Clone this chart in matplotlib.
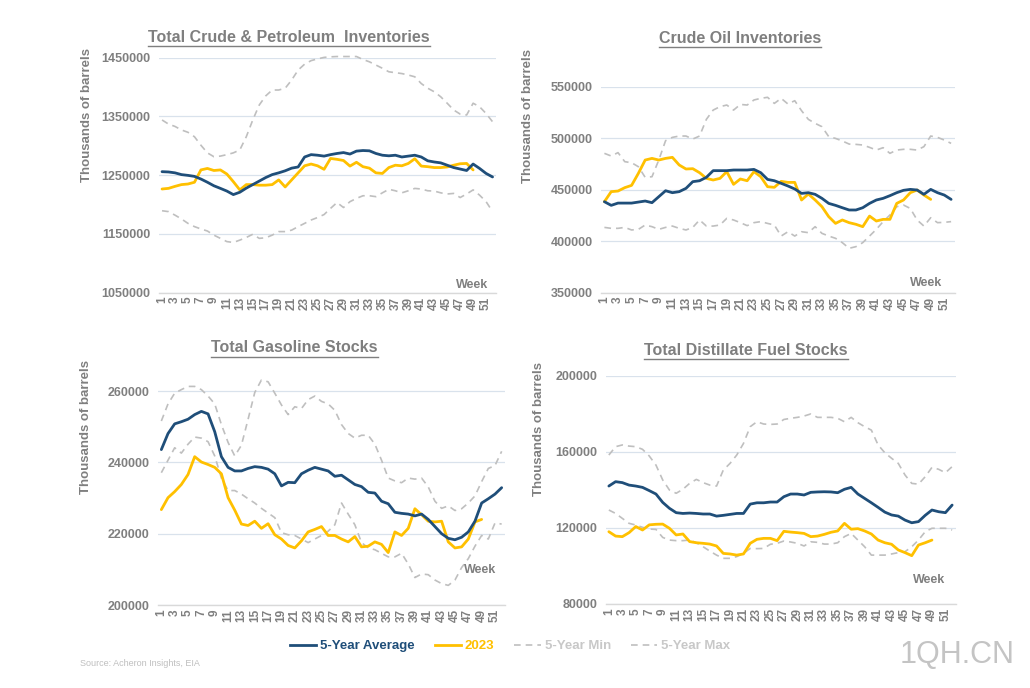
import matplotlib
matplotlib.use("Agg")
import matplotlib.pyplot as plt
from matplotlib.lines import Line2D
from matplotlib import font_manager as fm

weeks = list(range(1, 53))
tick_weeks = list(range(1, 53, 2))

# ---- Total Crude & Petroleum Inventories ----
tcp_avg = [1256000, 1255500, 1254000, 1251000, 1249700, 1248000, 1243500, 1238000, 1232000, 1227600,
           1223000, 1217000, 1221000, 1228000, 1234000, 1240000, 1246000, 1251000, 1254000, 1257500,
           1262000, 1264000, 1281000, 1285000, 1284000, 1282500, 1285000, 1287000, 1288500, 1286000,
           1291000, 1292000, 1291500, 1287000, 1284000, 1283000, 1284000, 1281000, 1282500, 1284000,
           1281000, 1274500, 1272500, 1271000, 1267000, 1263000, 1260500, 1258000, 1269000, 1261500,
           1253000, 1247000]
tcp_2023 = [1226500, 1227600, 1231000, 1234000, 1235000, 1238000, 1259000, 1261500, 1258000, 1259000,
            1252000, 1239000, 1225000, 1234000, 1234000, 1233000, 1233000, 1234000, 1242000, 1230000,
            1242000, 1254000, 1266000, 1269000, 1266000, 1260000, 1278500, 1277000, 1275000, 1265500,
            1272000, 1264500, 1262000, 1254000, 1253000, 1263000, 1267000, 1266000, 1270000, 1278000,
            1265500, 1264500, 1263000, 1263000, 1264000, 1267000, 1269500, 1270000, 1259000]
tcp_min = [1189500, 1188000, 1182000, 1175500, 1168000, 1162500, 1158500, 1155000, 1148000, 1142500,
           1137000, 1135500, 1139500, 1144000, 1149500, 1142500, 1143500, 1148000, 1154000, 1154000,
           1156500, 1162500, 1168000, 1173700, 1178000, 1183000, 1193500, 1203500, 1195000, 1205000,
           1210500, 1215000, 1215000, 1213500, 1220000, 1226000, 1223500, 1220000, 1223500, 1227500,
           1226500, 1223500, 1223000, 1220000, 1218000, 1219000, 1212000, 1218000, 1225000, 1216000,
           1205000, 1188000]
tcp_max = [1344000, 1337000, 1333000, 1327000, 1323000, 1315500, 1301000, 1288000, 1281500, 1282500,
           1285000, 1288000, 1293000, 1315500, 1344000, 1369500, 1385000, 1395000, 1395000, 1398000,
           1412000, 1429000, 1439000, 1445000, 1448000, 1450500, 1451500, 1452000, 1452000, 1452000,
           1452000, 1447000, 1443000, 1437500, 1432000, 1426000, 1424500, 1423000, 1420500, 1417500,
           1406000, 1398000, 1392000, 1383500, 1372500, 1361000, 1354000, 1352500, 1372500, 1366500,
           1355000, 1341000]

# ---- Crude Oil Inventories ----
co_avg = [438350, 434800, 437000, 437000, 437000, 438000, 439000, 437400, 443200, 449000,
          447100, 448100, 451300, 457800, 458700, 462000, 468500, 468500, 468500, 469100,
          469100, 469100, 469700, 466500, 460000, 458700, 456200, 453600, 450700, 446400,
          447100, 445500, 441600, 436700, 434800, 432500, 430300, 430300, 432500, 436700,
          440000, 441600, 444200, 447100, 449400, 450300, 449700, 445500, 450300, 447100,
          444800, 440600]
co_2023 = [438350, 448100, 448700, 452000, 454200, 465900, 478800, 480400, 478800, 480400,
           481400, 474000, 470100, 470400, 466500, 461000, 459400, 461000, 467500, 455200,
           460400, 458700, 467500, 462600, 452900, 452300, 458100, 457100, 457100, 440000,
           445800, 440000, 433500, 423800, 417300, 420600, 418000, 416400, 414100, 424400,
           419600, 421200, 421200, 436700, 440000, 447100, 449700, 444800, 440600]
co_min = [413400, 412500, 412500, 413400, 410900, 411500, 415700, 414100, 411500, 413400,
          414700, 412500, 410900, 413400, 420600, 414700, 414700, 415700, 422200, 420600,
          418000, 415100, 418000, 419000, 417300, 415700, 405000, 409200, 405000, 409200,
          408300, 414100, 407600, 405000, 402800, 398600, 393100, 394700, 398600, 405000,
          411500, 419000, 425400, 433500, 435100, 431800, 420600, 414700, 422800, 418000,
          418300, 419000]
co_max = [485300, 482700, 486000, 477200, 476200, 472300, 462000, 462600, 478800, 497600,
          500800, 502100, 502100, 499200, 502100, 518300, 527300, 530600, 532200, 527300,
          532800, 532200, 537100, 538700, 539700, 533800, 538700, 533200, 536400, 526700,
          518300, 514400, 511200, 501500, 499800, 497300, 494300, 494000, 493400, 491100,
          488500, 490800, 485300, 488500, 489200, 489200, 488500, 491800, 502100, 500800,
          498200, 495000]

# ---- Total Gasoline Stocks ----
gs_avg = [243580, 248080, 250800, 251400, 252100, 253400, 254300, 253600, 248600, 241600,
          238600, 237600, 237600, 238300, 238800, 238600, 238100, 236800, 233400, 234400,
          234300, 236800, 237800, 238600, 238100, 237600, 236100, 236400, 235100, 233800,
          233200, 231600, 231400, 229100, 228400, 226000, 225700, 225500, 225000, 225500,
          224000, 222000, 220000, 218700, 218300, 219000, 220500, 223500, 228600, 229800,
          231100, 232900]
gs_2023 = [226750, 230100, 231800, 233800, 236600, 241600, 240100, 239400, 238600, 236800,
           230100, 226600, 222700, 222300, 223500, 221500, 222800, 219700, 218500, 216700,
           216000, 218000, 220500, 221200, 222000, 219500, 219500, 218500, 217700, 219200,
           216300, 216500, 217700, 217000, 214700, 220500, 219500, 221500, 227000, 225300,
           223500, 223300, 223500, 217700, 216000, 216300, 218500, 223300, 224000]
gs_min = [237100, 240600, 244100, 242600, 245100, 247100, 246800, 245800, 241800, 235600,
          232100, 232100, 231100, 229800, 228600, 227100, 225800, 224500, 220300, 219700,
          219500, 218500, 217500, 218500, 219500, 220700, 222500, 228600, 225500, 222500,
          217500, 216000, 215500, 214500, 213500, 213500, 214500, 211500, 207700, 208700,
          208500, 207000, 206000, 205500, 207000, 210500, 213000, 216500, 219500, 218500,
          223000, 222700]
gs_max = [251600, 256400, 259400, 260400, 261300, 261300, 260400, 258600, 256400, 250600,
          245600, 241800, 244800, 252100, 259600, 263100, 262600, 259400, 256100, 253400,
          255600, 255100, 257600, 258600, 257100, 256400, 254600, 250600, 248100, 246800,
          247600, 247600, 245100, 240600, 235600, 234800, 234300, 235600, 235300, 235600,
          233100, 229100, 227100, 227800, 226500, 227000, 228600, 230600, 234600, 238300,
          239100, 243100]

# ---- Total Distillate Fuel Stocks ----
df_avg = [142000, 144300, 143800, 142500, 142000, 141300, 139600, 137800, 133400, 130300,
          128000, 127600, 127800, 127600, 127300, 127300, 126200, 126600, 127100, 127600,
          127600, 132500, 133200, 133200, 133600, 133600, 136400, 137800, 137800, 137300,
          138700, 138900, 139000, 138900, 138500, 140300, 141300, 137800, 135500, 133200,
          130800, 128300, 126800, 126200, 124100, 122700, 123300, 126600, 129400, 128500,
          128000, 132000]
df_2023 = [118000, 115700, 115400, 117500, 120700, 118900, 121600, 121900, 122000, 119800,
           116300, 116800, 112800, 112200, 111900, 111500, 110500, 106600, 106300, 105700,
           106300, 111900, 114000, 114500, 114500, 113300, 118200, 117800, 117500, 117100,
           115400, 115700, 116600, 117700, 118400, 122400, 119300, 119600, 118400, 116800,
           113600, 112200, 111400, 108400, 107000, 105400, 111000, 112200, 113600]
df_min = [129400, 127600, 125000, 122400, 121500, 120300, 119400, 119200, 115000, 113600,
          113300, 113300, 113600, 112200, 110100, 107800, 105700, 104000, 104000, 104900,
          106600, 109200, 109100, 109200, 111400, 111900, 113100, 112600, 111900, 110500,
          112700, 112400, 111500, 111500, 112200, 115400, 117100, 113600, 110100, 105700,
          105700, 105700, 106300, 107000, 107500, 110100, 113600, 118000, 119800, 119800,
          119800, 118900]
df_max = [158300, 162700, 163600, 163000, 162700, 161300, 157800, 153000, 145200, 139900,
          138200, 140300, 143400, 145500, 143800, 142500, 142000, 150400, 153900, 158300,
          164400, 173200, 175800, 174600, 174400, 174600, 177000, 177600, 178100, 178800,
          179900, 178100, 178100, 178100, 177600, 175800, 178100, 175300, 173200, 171400,
          163600, 159500, 156600, 153900, 147800, 143400, 143000, 146900, 151800, 150800,
          149000, 152200]

titles = ["Total Crude & Petroleum  Inventories", "Crude Oil Inventories",
          "Total Gasoline Stocks", "Total Distillate Fuel Stocks"]
yticks = [[1050000, 1150000, 1250000, 1350000, 1450000],
          [350000, 400000, 450000, 500000, 550000],
          [200000, 220000, 240000, 260000],
          [80000, 120000, 160000, 200000]]
ylims = [(1050000, 1450000), (350000, 550000), (200000, 270000), (80000, 200000)]
series = [(tcp_avg, tcp_2023, tcp_min, tcp_max), (co_avg, co_2023, co_min, co_max),
          (gs_avg, gs_2023, gs_min, gs_max), (df_avg, df_2023, df_min, df_max)]
legend_labels = ["5-Year Average", "2023", "5-Year Min", "5-Year Max"]
source_text = "Source: Acheron Insights, EIA"
watermark = "1QH.CN"

names = {f.name for f in fm.fontManager.ttflist}
FONT = "Liberation Sans" if "Liberation Sans" in names else "DejaVu Sans"
NARROW = "Liberation Sans Narrow" if "Liberation Sans Narrow" in names else FONT
plt.rcParams["font.family"] = [FONT, "DejaVu Sans"]

BLUE = "#1F4E79"
YELLOW = "#FFC000"
GREYD = "#BFBFBF"
TXT = "#7F7F7F"
GRID = "#D9E2EC"

W, H = 1030, 688
fig = plt.figure(figsize=(W / 100, H / 100), dpi=100)
fig.patch.set_facecolor("white")

def fx(x):
    return x / W

def fy(y):
    return 1 - y / H

# axes rects in pixel coordinates: left, right, top(of ylim max), bottom
rects = [(158.8, 495.8, 57.7, 292.7), (601, 954.5, 86.7, 292.7),
         (158, 505, 355.4, 605), (605.5, 955.5, 375.7, 604)]
title_pos = [(289, 37), (740, 38.5), (294.5, 348), (746, 350.5)]
ylabel_pos = [(87, 115), (528, 116), (86, 427), (539, 429)]
week_pos = [(488, 285), (942, 283), (496, 570), (945, 580)]

axes = []
for i, (l, r, t, b) in enumerate(rects):
    ax = fig.add_axes([fx(l), fy(b), (r - l) / W, (b - t) / H])
    axes.append(ax)
    avg, y23, mn, mx = series[i]
    ax.plot(weeks, mn, color=GREYD, lw=1.2, ls=(0, (4, 3)), clip_on=False, zorder=2)
    ax.plot(weeks, mx, color=GREYD, lw=1.2, ls=(0, (4, 3)), clip_on=False, zorder=2)
    ax.plot(weeks, avg, color=BLUE, lw=2.0, clip_on=False, zorder=4, solid_capstyle="round")
    ax.plot(weeks[:len(y23)], y23, color=YELLOW, lw=2.0, clip_on=False, zorder=3,
            solid_capstyle="round")
    ax.set_xlim(0.5, 52.5)
    ax.set_ylim(*ylims[i])
    ax.set_yticks(yticks[i])
    ax.set_yticklabels([str(v) for v in yticks[i]], fontsize=9, fontweight="bold", color=TXT)
    ax.set_xticks(tick_weeks)
    ax.set_xticklabels([str(w) for w in tick_weeks], rotation=90, fontsize=8.5,
                       fontweight="bold", color=TXT)
    ax.tick_params(axis="both", length=0, pad=3)
    ax.tick_params(axis="y", pad=6)
    for s in ["top", "right", "left"]:
        ax.spines[s].set_visible(False)
    ax.spines["bottom"].set_color("#D9D9D9")
    ax.spines["bottom"].set_linewidth(1.0)
    ax.grid(axis="y", color=GRID, lw=0.9)
    ax.set_axisbelow(True)
    ax.set_facecolor("none")
    fig.text(fx(title_pos[i][0]), fy(title_pos[i][1]), titles[i], ha="center", va="center",
             fontsize=11.5, fontweight="bold", color=TXT)
    fig.text(fx(ylabel_pos[i][0]), fy(ylabel_pos[i][1]), "Thousands of barrels", rotation=90,
             ha="center", va="center", fontsize=9.5, fontweight="bold", color=TXT)
    fig.text(fx(week_pos[i][0]), fy(week_pos[i][1]), "Week", ha="right", va="center",
             fontsize=9, fontweight="bold", color=TXT)

handles = [Line2D([], [], color=BLUE, lw=2.0),
           Line2D([], [], color=YELLOW, lw=2.0),
           Line2D([], [], color=GREYD, lw=1.2, ls=(0, (4, 3))),
           Line2D([], [], color=GREYD, lw=1.2, ls=(0, (4, 3)))]
leg = fig.legend(handles, legend_labels, loc="center", bbox_to_anchor=(fx(510), fy(646)),
                 ncol=4, frameon=False, handlelength=2.0, handletextpad=0.3,
                 columnspacing=1.5, prop={"family": NARROW, "weight": "bold", "size": 9.5},
                 labelcolor=[BLUE, YELLOW, "#C8C8C8", "#C8C8C8"])

fig.text(fx(80), fy(663), source_text, ha="left", va="center", fontsize=6.5,
         color="#BFBFBF", family=NARROW)
fig.text(fx(1015), fy(655), watermark, ha="right", va="center", fontsize=22,
         color="#C4C4C4", family=NARROW)

# underline the titles
fig.canvas.draw()
renderer = fig.canvas.get_renderer()
for t in list(fig.texts):
    if t.get_text() in titles:
        bb = t.get_window_extent(renderer)
        yline = bb.y0 - 1.0
        fig.add_artist(Line2D([bb.x0 / W, bb.x1 / W], [yline / H, yline / H],
                              transform=fig.transFigure, color=TXT, lw=1.0))

fig.savefig("out.png", dpi=100, facecolor="white")
